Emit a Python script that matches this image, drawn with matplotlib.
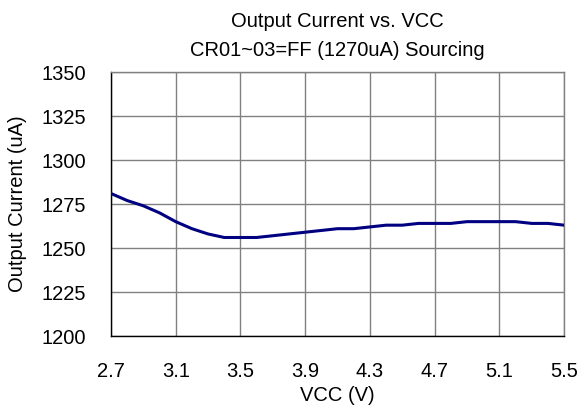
import matplotlib
matplotlib.use("Agg")
import matplotlib.pyplot as plt

plt.rcParams["font.family"] = ["Liberation Sans", "DejaVu Sans"]

vcc = [2.7, 2.8, 2.9, 3.0, 3.1, 3.2, 3.3, 3.4, 3.5, 3.6, 3.7, 3.8, 3.9, 4.0,
       4.1, 4.2, 4.3, 4.4, 4.5, 4.6, 4.7, 4.8, 4.9, 5.0, 5.1, 5.2, 5.3, 5.4, 5.5]
current = [1281, 1277, 1274, 1270, 1265, 1261, 1258, 1256, 1256, 1256, 1257,
           1258, 1259, 1260, 1261, 1261, 1262, 1263, 1263, 1264, 1264, 1264,
           1265, 1265, 1265, 1265, 1264, 1264, 1263]
xticks = [2.7, 3.1, 3.5, 3.9, 4.3, 4.7, 5.1, 5.5]
yticks = [1200, 1225, 1250, 1275, 1300, 1325, 1350]

fig = plt.figure(figsize=(5.81, 4.19), dpi=100)
ax = fig.add_axes([0.191, 0.198, 0.780, 0.630])

ax.plot(vcc, current, color="#000080", linewidth=2.2, zorder=3)

ax.set_xlim(2.7, 5.5)
ax.set_ylim(1200, 1350)
ax.set_xticks(xticks)
ax.set_xticklabels([f"{x:.1f}" for x in xticks])
ax.set_yticks(yticks)
ax.grid(True, color="#808080", linewidth=1.0)
for s in ax.spines.values():
    s.set_color("#808080")
    s.set_linewidth(1.0)
ax.spines["left"].set_color("black")
ax.spines["bottom"].set_color("black")
ax.tick_params(axis="x", length=0, labelsize=14.5, pad=19)
ax.tick_params(axis="y", length=0, labelsize=14.5, pad=18)

ax.set_xlabel("VCC (V)", fontsize=14.5, va="center")
ax.xaxis.set_label_coords(0.5, -0.2235)
ax.set_ylabel("Output Current (uA)", fontsize=14.5, va="center")
ax.yaxis.set_label_coords(-0.207, 0.5)

# two-line title, centred over the plot area
cx = 0.191 + 0.780 / 2
fig.text(cx, 1 - 27 / 419, "Output Current vs. VCC", ha="center", va="baseline", fontsize=14.5)
fig.text(cx, 1 - 55.5 / 419, "CR01~03=FF (1270uA) Sourcing", ha="center", va="baseline", fontsize=14.5)

fig.savefig("out.png", dpi=100)
